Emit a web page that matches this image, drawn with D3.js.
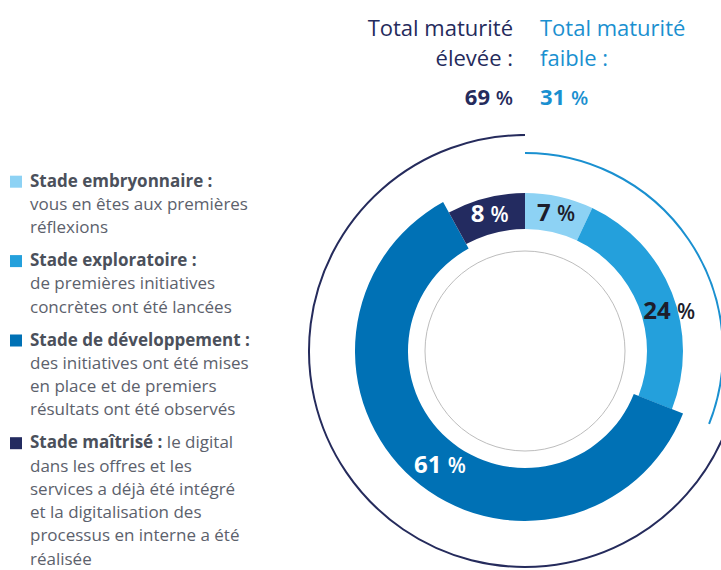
<!DOCTYPE html>
<html>
<head>
<meta charset="utf-8"/>
<title>Maturité digitale</title>
<script src="https://d3js.org/d3.v7.min.js"></script>
<style>
  body { margin: 0; background: #fff; }
  text { font-family: "Open Sans", Lato, sans-serif; }
  .legend-bold { font-weight: 700; fill: #4b505b; }
  .legend-reg { fill: #5c616c; }
</style>
</head>
<body>
<svg width="721" height="570"></svg>
<script>
// stages of digital maturity, in order clockwise from 12 o'clock
var stages = ["Stade embryonnaire", "Stade exploratoire", "Stade de développement", "Stade maîtrisé"];
var shares = [7, 24, 61, 8];
var colors = ["#8dd2f4", "#24a0dc", "#0071b5", "#232b60"];

// totals shown on the outer rings
var totals = ["Total maturité faible", "Total maturité élevée"];
var totalShares = [31, 69];
var totalColors = ["#1a90d0", "#252b5c"];

// legend texts (first line is bold title)
var legendLines = [
  [["Stade embryonnaire :", ""], ["vous en êtes aux premières"], ["réflexions"]],
  [["Stade exploratoire :", ""], ["de premières initiatives"], ["concrètes ont été lancées"]],
  [["Stade de développement :", ""], ["des initiatives ont été mises"], ["en place et de premiers"], ["résultats ont été observés"]],
  [["Stade maîtrisé :", " le digital"], ["dans les offres et les"], ["services a déjà été intégré"], ["et la digitalisation des"], ["processus en interne a été"], ["réalisée"]]
];

var svg = d3.select("svg");
var cx = 525, cy = 351;

// ring radii; the development stage is drawn thicker
var ringInner = [122, 122, 117, 122];
var ringOuter = [158, 158, 170, 158];
var labelR = [142, 150, 142, 142];
var labelShift = [0, 0.1, -0.08, 0];   // radians
var labelFill = ["#1d1d2b", "#1d1d2b", "#fff", "#fff"];

var g = svg.append("g").attr("transform", "translate(" + cx + "," + cy + ")");

var pie = d3.pie().sort(null).value(function(d) { return d; });
var arcs = pie(shares);

g.append("circle").attr("r", 100)
  .attr("fill", "none").attr("stroke", "#bdbdbd").attr("stroke-width", 1);

g.selectAll("path.seg").data(arcs).enter().append("path")
  .attr("class", "seg")
  .attr("fill", function(d, i) { return colors[i]; })
  .attr("d", function(d, i) {
    return d3.arc().innerRadius(ringInner[i]).outerRadius(ringOuter[i])(d);
  });

// percentage labels
g.selectAll("text.pct").data(arcs).enter().append("text")
  .attr("class", "pct")
  .each(function(d, i) {
    var a = (d.startAngle + d.endAngle) / 2 + labelShift[i];
    var t = d3.select(this)
      .attr("x", labelR[i] * Math.sin(a))
      .attr("y", -labelR[i] * Math.cos(a))
      .attr("dy", "0.36em")
      .attr("text-anchor", "middle")
      .attr("fill", labelFill[i])
      .attr("font-size", 24)
      .attr("font-weight", 700);
    t.append("tspan").text(d.data + " ");
    t.append("tspan").attr("font-size", 21).attr("font-weight", 600).text("%");
  });

// outer total rings
var totalArcs = pie(totalShares);
var totalR = [198, 216];
g.selectAll("path.tot").data(totalArcs).enter().append("path")
  .attr("class", "tot")
  .attr("fill", "none")
  .attr("stroke", function(d, i) { return totalColors[i]; })
  .attr("stroke-width", 2)
  .attr("d", function(d, i) {
    return d3.arc().innerRadius(totalR[i]).outerRadius(totalR[i])(d);
  });

// header totals
var head = svg.append("g");
function headCol(x, anchor, color, l1, l2, pct) {
  head.append("text").attr("x", x).attr("y", 36).attr("text-anchor", anchor)
    .attr("fill", color).attr("font-size", 22).text(l1);
  head.append("text").attr("x", x).attr("y", 66).attr("text-anchor", anchor)
    .attr("fill", color).attr("font-size", 22).text(l2);
  var t = head.append("text").attr("x", x).attr("y", 105).attr("text-anchor", anchor)
    .attr("fill", color).attr("font-size", 22).attr("font-weight", 700);
  t.append("tspan").text(pct + " ");
  t.append("tspan").attr("font-weight", 600).attr("font-size", 20).text("%");
}
headCol(513, "end", totalColors[1], "Total maturité", "élevée :", totalShares[1]);
headCol(540, "start", totalColors[0], "Total maturité", "faible :", totalShares[0]);

// legend
var lg = svg.append("g");
var y = 186.7, lh = 23.3, gap = 9.5;
legendLines.forEach(function(lines, k) {
  lg.append("rect").attr("x", 10).attr("y", y - 11).attr("width", 12).attr("height", 12)
    .attr("fill", colors[k]);
  lines.forEach(function(line, j) {
    var t = lg.append("text").attr("x", 30).attr("y", y).attr("font-size", 17);
    if (j === 0) {
      t.append("tspan").attr("class", "legend-bold").text(line[0]);
      if (line[1]) t.append("tspan").attr("class", "legend-reg").text(line[1]);
    } else {
      t.append("tspan").attr("class", "legend-reg").text(line[0]);
    }
    y += lh;
  });
  y += gap;
});
</script>
</body>
</html>
